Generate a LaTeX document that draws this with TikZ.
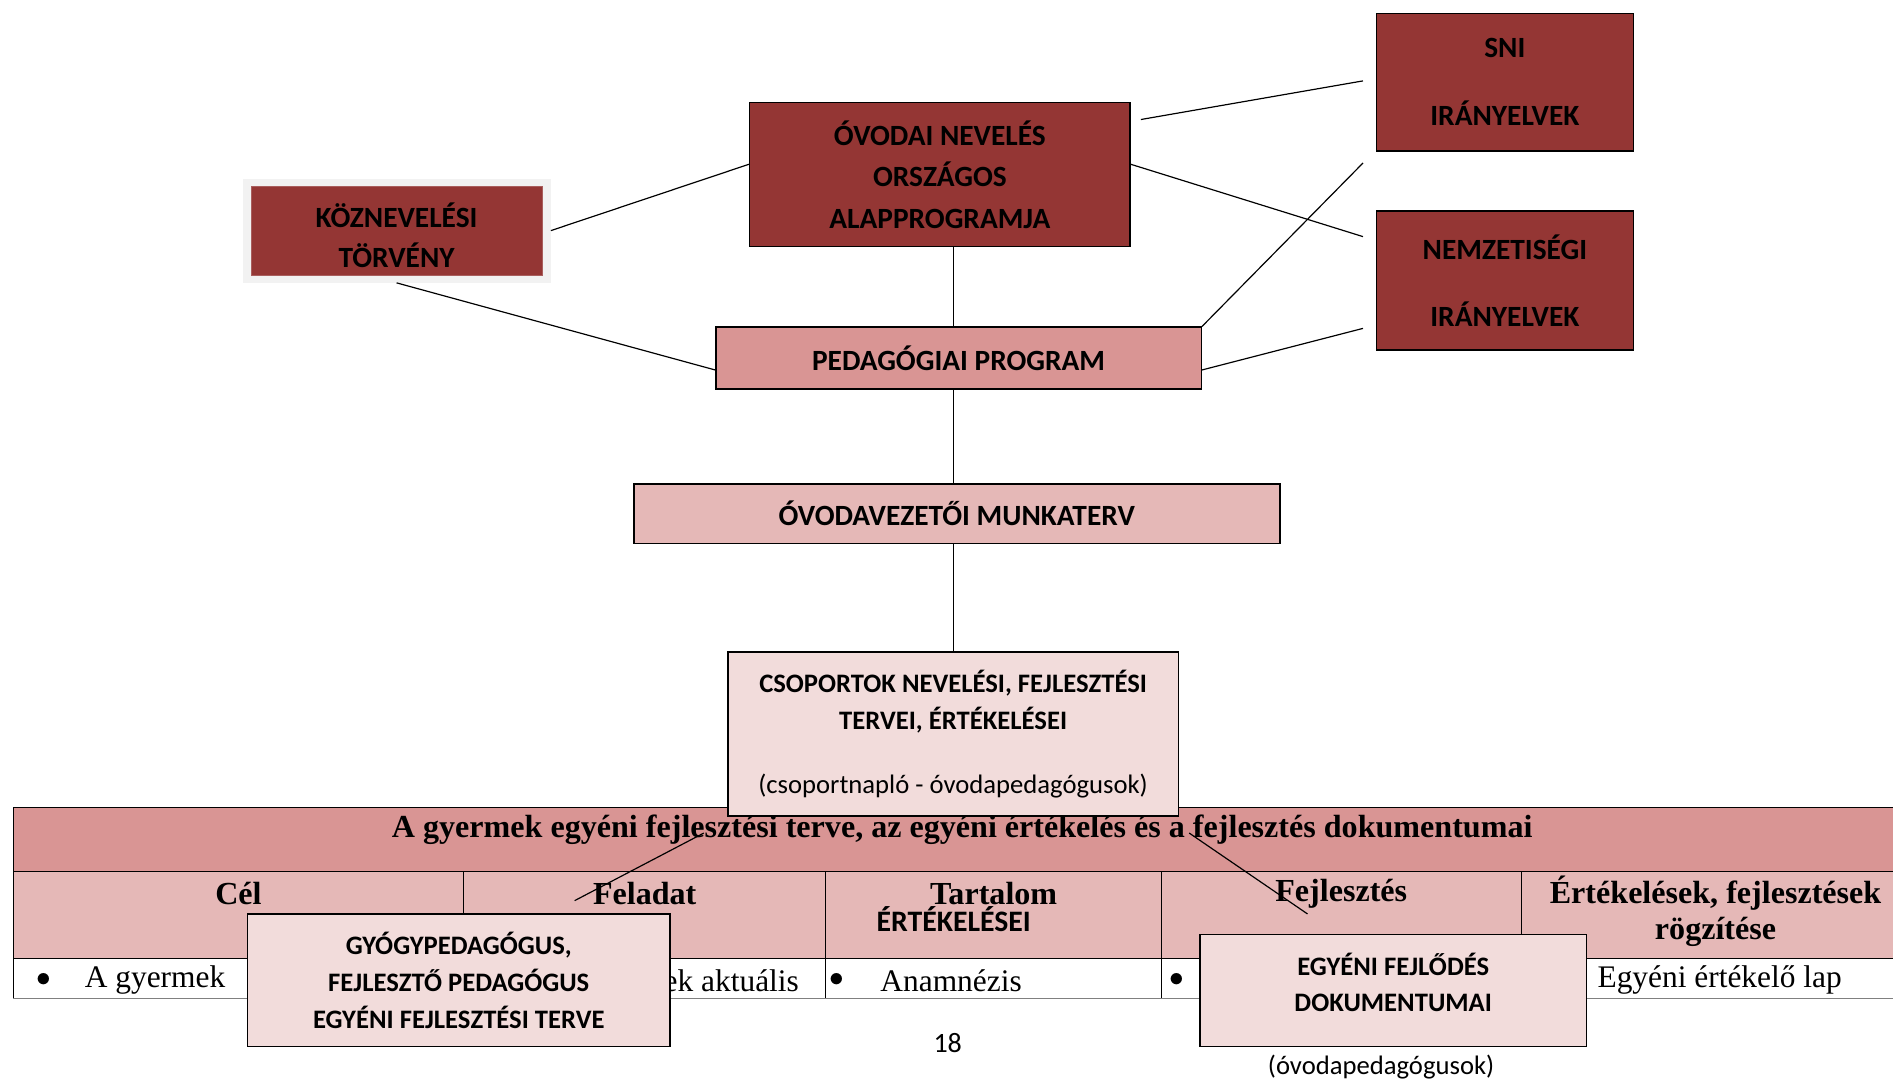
\documentclass[tikz,border=0pt]{standalone}
\usepackage{fontspec}
\setmainfont{Liberation Serif}
\newfontfamily\calfont{Carlito}
\usetikzlibrary{calc}
\definecolor{dred}{HTML}{943634}
\definecolor{mred}{HTML}{D99594}
\definecolor{lred}{HTML}{E5B8B7}
\definecolor{pred}{HTML}{F2DCDB}
\definecolor{frame}{HTML}{F2F2F2}
\tikzset{
  box/.style={draw=black, line width=0.9pt, inner sep=0pt, align=center, text=black},
  darkbox/.style={box, fill=dred},
  boxfont/.style={font=\calfont\bfseries\fontsize{17.3}{#1}\selectfont},
  smallfont/.style={font=\calfont\bfseries\fontsize{15.7}{#1}\selectfont},
  conn/.style={line width=0.7pt, draw=black},
  tabtext/.style={font=\bfseries\fontsize{18.9}{22}\selectfont, inner sep=0pt},
  celltext/.style={font=\fontsize{18.5}{22}\selectfont, inner sep=0pt},
}
\begin{document}
\begin{tikzpicture}[x=0.025cm,y=-0.025cm]
\useasboundingbox (0,0) rectangle (1568,896);
\fill[white] (0,0) rectangle (1568,896);

% ---------- top boxes ----------
\node[fill=frame, minimum width=6.375cm, minimum height=2.15cm, inner sep=0pt] (kozframe) at (328.5,191) {};
\node[fill=dred, draw=dred!80!white, line width=0.4pt, inner sep=0pt, minimum width=6.025cm, minimum height=1.85cm] (koz) at (328.5,191) {};
\node[align=center, inner sep=0pt, boxfont=23.5] (kozt) at ($(koz.center)+(0,4)$) {K\"OZNEVEL\'ESI\\T\"ORV\'ENY};

\node[darkbox, minimum width=7.875cm, minimum height=2.975cm, boxfont=24.5] (ovodai) at (778.5,144.5) {\'OVODAI NEVEL\'ES\\ORSZ\'AGOS\\ALAPPROGRAMJA};

\node[darkbox, minimum width=5.325cm, minimum height=2.85cm, boxfont=40] (sni) at (1246.5,68) {SNI\\IR\'ANYELVEK};
\node[darkbox, minimum width=5.325cm, minimum height=2.875cm, boxfont=40] (nemz) at (1246.5,232.5) {NEMZETIS\'EGI\\IR\'ANYELVEK};

\node[box, fill=mred, minimum width=10.05cm, minimum height=1.275cm, boxfont=20] (ped) at (794,296.5) {PEDAG\'OGIAI PROGRAM};
\node[box, fill=lred, minimum width=13.375cm, minimum height=1.225cm, boxfont=20] (munka) at (792.5,425.5) {\'OVODAVEZET\H{O}I MUNKATERV};

% ---------- table ----------
\fill[mred] (11,669) rectangle (1568,722);
\fill[lred] (11,722) rectangle (1568,794);
\draw[line width=0.8pt] (11,669) -- (1568,669);
\draw[line width=0.6pt] (11,722) -- (1568,722);
\draw[line width=0.6pt] (11,794) -- (1568,794);
\draw[line width=0.6pt, gray] (11,827) -- (1568,827);
\draw[line width=0.6pt] (11,669) -- (11,827);
\foreach \cx in {384,684,962,1260} { \draw[line width=0.6pt] (\cx,722) -- (\cx,827); }

\node[tabtext] (thead) at (797,687) {A gyermek egy\'eni fejleszt\'esi terve, az egy\'eni \'ert\'ekel\'es \'es a fejleszt\'es dokumentumai};
\node[tabtext] (tcel) at (197.5,740) {C\'el};
\node[tabtext] (tfel) at (534,740) {Feladat};
\node[tabtext] (ttar) at (823,740) {Tartalom};
\node[font=\calfont\bfseries\fontsize{17.5}{20}\selectfont, inner sep=0pt] (tert) at (790,761) {\'ERT\'EKEL\'ESEI};
\node[tabtext] (tfej) at (1111,740) {Fejleszt\'es};
\node[tabtext, align=center, font=\bfseries\fontsize{18.9}{21.5}\selectfont] (trog) at (1421,755) {\'Ert\'ekel\'esek, fejleszt\'esek\\r\"ogz\'it\'ese};

\node[celltext] (b1) at (36,812) {$\bullet$};
\node[celltext, anchor=west] (c1) at (70,812) {A gyermek};
\node[celltext, anchor=east] (c2) at (662,812) {ek aktu\'alis};
\node[celltext] (b3) at (693,812) {$\bullet$};
\node[celltext, anchor=west] (c3) at (729,812) {Anamn\'ezis};
\node[celltext] (b4) at (975,812) {$\bullet$};
\node[celltext, anchor=west] (c5) at (1323,812) {Egy\'eni \'ert\'ekel\H{o} lap};

% ---------- middle/bottom boxes ----------
\node[box, fill=pred, minimum width=9.325cm, minimum height=3.4cm, smallfont=22] (csop) at (789.5,608) {CSOPORTOK NEVEL\'ESI, FEJLESZT\'ESI\\TERVEI, \'ERT\'EKEL\'ESEI\\[15.5pt]{\mdseries (csoportnapl\'o - \'ovodapedag\'ogusok)}};

\coordinate (g1) at (583,690);
\coordinate (g2) at (476,746);
\coordinate (e1) at (985,690);
\coordinate (e2) at (1083,757);
\draw[conn] (g1) -- (g2);
\draw[conn] (e1) -- (e2);

\node[box, fill=pred, minimum width=8.75cm, minimum height=2.75cm, smallfont=21.7] (gyogy) at (380,812) {GY\'OGYPEDAG\'OGUS,\\FEJLESZT\H{O} PEDAG\'OGUS\\EGY\'ENI FEJLESZT\'ESI TERVE};
\node[box, fill=pred, minimum width=8cm, minimum height=2.325cm] (egyeni) at (1154,820.5) {};
\node[align=center, inner sep=0pt, smallfont=21.3] (egyenit) at ($(egyeni.center)+(0,-7)$) {EGY\'ENI FEJL\H{O}D\'ES\\DOKUMENTUMAI};
\node[font=\calfont\fontsize{15.7}{20}\selectfont, inner sep=0pt] (ovped) at (1144,884) {(\'ovodapedag\'ogusok)};
\node[font=\calfont\fontsize{16.5}{20}\selectfont, inner sep=0pt] (page) at (785,864) {18};

% ---------- connectors ----------
\coordinate (s1) at (945,99);
\coordinate (s2) at (1129,67);
\coordinate (n1) at (1129,196);
\coordinate (s3) at (1129,135);
\coordinate (n2) at (1129,272);
\draw[conn] (kozframe.east) -- ($(ovodai.north west)!0.43!(ovodai.south west)$);
\draw[conn] (kozframe.south) -- ($(ped.north west)!0.69!(ped.south west)$);
\draw[conn] (ovodai.south -| csop.north) -- (ped.north -| csop.north);
\draw[conn] (s1) -- (s2);
\draw[conn] ($(ovodai.north east)!0.43!(ovodai.south east)$) -- (n1);
\draw[conn] (ped.north east) -- (s3);
\draw[conn] ($(ped.north east)!0.69!(ped.south east)$) -- (n2);
\draw[conn] (ped.south -| csop.north) -- (munka.north -| csop.north);
\draw[conn] (munka.south -| csop.north) -- (csop.north);
\end{tikzpicture}
\end{document}
